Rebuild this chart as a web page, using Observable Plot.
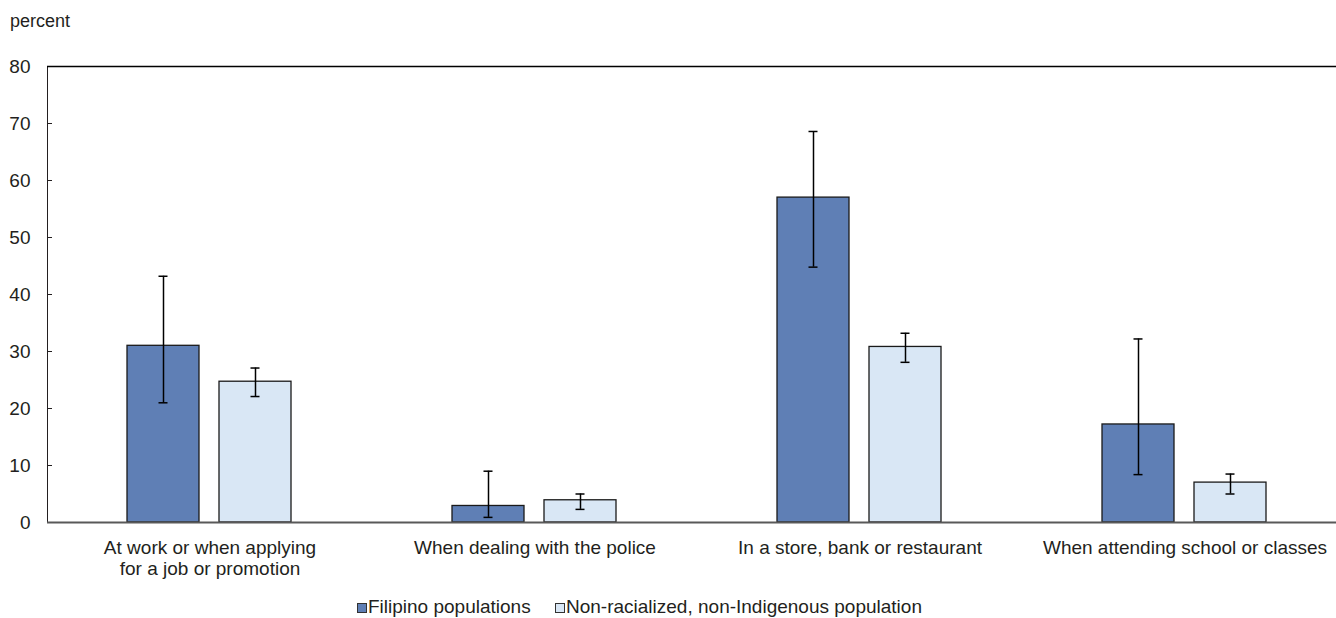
<!DOCTYPE html>
<html>
<head>
<meta charset="utf-8">
<script src="https://cdn.jsdelivr.net/npm/d3@7"></script>
<script src="https://cdn.jsdelivr.net/npm/@observablehq/plot@0.6"></script>
<style>
  body { margin: 0; background: #fff; font-family: "Liberation Sans", Arial, sans-serif; color: #231f20; }
  #wrap { position: relative; width: 1336px; height: 618px; overflow: hidden; }
  #title { position: absolute; left: 10px; top: 12px; font-size: 18px; line-height: 18px; }
  #chart { position: absolute; left: 0; top: 40px; }
  .sw { position: absolute; width: 8px; height: 8px; border: 1px solid #333; top: 603px; }
  .lt { position: absolute; top: 597px; font-size: 19px; line-height: 19px; white-space: nowrap; }
</style>
</head>
<body>
<div id="wrap">
  <div id="title">percent</div>
  <div id="chart"></div>
  <div id="legend"></div>
</div>
<script>
const categories = [
  "At work or when applying\nfor a job or promotion",
  "When dealing with the police",
  "In a store, bank or restaurant",
  "When attending school or classes"
];
const series = ["Filipino populations", "Non-racialized, non-Indigenous population"];
const filipino      = [31.0, 2.9, 57.0, 17.2];
const filipinoLow   = [21.0, 0.9, 44.8, 8.4];
const filipinoHigh  = [43.2, 9.0, 68.6, 32.2];
const nonRacial     = [24.7, 3.9, 30.8, 7.0];
const nonRacialLow  = [22.1, 2.3, 28.1, 5.0];
const nonRacialHigh = [27.1, 5.0, 33.2, 8.5];
const yTicks = [0, 10, 20, 30, 40, 50, 60, 70, 80];
const colors = ["#5f7fb5", "#d9e7f5"];

const rows = categories.flatMap((c, i) => [
  {category: c, series: series[0], value: filipino[i], lo: filipinoLow[i], hi: filipinoHigh[i]},
  {category: c, series: series[1], value: nonRacial[i], lo: nonRacialLow[i], hi: nonRacialHigh[i]}
]);

const chart = Plot.plot({
  width: 1336,
  height: 550,
  marginLeft: 47,
  marginRight: -11,
  marginTop: 26,
  marginBottom: 68,
  style: {fontFamily: "'Liberation Sans', Arial, sans-serif", fontSize: "19px", color: "#231f20", background: "white"},
  fx: {domain: categories, range: [47, 1347], padding: 0, label: null},
  x: {domain: series, paddingInner: 20 / 93, paddingOuter: 0.855, axis: null},
  y: {domain: [0, 80], label: null, ticks: yTicks, tickSize: -5, tickPadding: 22, line: true},
  color: {domain: series, range: colors},
  marks: [
    Plot.ruleY([80], {stroke: "#000", strokeWidth: 1.4}),
    Plot.barY(rows, {fx: "category", x: "series", y: "value", fill: "series", stroke: "#1a1a1a", strokeWidth: 1.3}),
    Plot.ruleY([0], {stroke: "#595959", strokeWidth: 2}),
    Plot.ruleX(rows, {fx: "category", x: "series", y1: "lo", y2: "hi", stroke: "#000", strokeWidth: 1.5}),
    Plot.tickY(rows, {fx: "category", x: "series", y: "lo", stroke: "#000", strokeWidth: 1.5, insetLeft: 31.5, insetRight: 31.5}),
    Plot.tickY(rows, {fx: "category", x: "series", y: "hi", stroke: "#000", strokeWidth: 1.5, insetLeft: 31.5, insetRight: 31.5}),
    Plot.axisFx({anchor: "bottom", tickSize: 0, tickPadding: 16, label: null, fontSize: 19, lineHeight: 1.12})
  ]
});
document.getElementById("chart").appendChild(chart);

const legend = document.getElementById("legend");
const swX = [357, 555];
const txX = [368, 566];
series.forEach((s, i) => {
  const sw = document.createElement("div");
  sw.className = "sw";
  sw.style.left = swX[i] + "px";
  sw.style.background = colors[i];
  legend.appendChild(sw);
  const t = document.createElement("div");
  t.className = "lt";
  t.style.left = txX[i] + "px";
  t.textContent = s;
  legend.appendChild(t);
});
</script>
</body>
</html>
